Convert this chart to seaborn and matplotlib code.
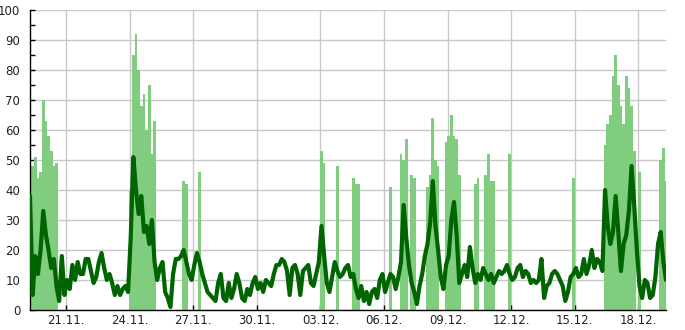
import matplotlib
matplotlib.use("Agg")
import matplotlib.pyplot as plt
import matplotlib.dates as mdates
from matplotlib.ticker import MultipleLocator, FixedLocator
import seaborn as sns
import pandas as pd
import numpy as np

# ---- data (3-hourly samples) ----
start_time = "2023-11-19 07:15"
step = "3h"

dark_values = [
    38, 5, 18, 12, 20, 33, 25, 20,
    14, 17, 8, 3, 18, 5, 10, 7,
    15, 10, 16, 12, 12, 17, 17, 13,
    9, 11, 16, 19, 14, 10, 12, 9,
    5, 8, 5, 7, 8, 6, 24, 51,
    40, 32, 38, 26, 28, 22, 30, 16,
    10, 14, 16, 6, 4, 1, 12, 17,
    17, 18, 20, 16, 12, 10, 15, 19,
    16, 12, 9, 6, 5, 4, 3, 9,
    12, 4, 3, 9, 4, 7, 12, 9,
    4, 3, 7, 5, 9, 11, 7, 9,
    6, 10, 9, 8, 12, 15, 15, 17,
    16, 13, 5, 14, 15, 12, 5, 13,
    14, 15, 9, 8, 12, 16, 28, 18,
    9, 6, 11, 16, 13, 11, 12, 14,
    15, 11, 12, 7, 4, 8, 3, 6,
    2, 6, 7, 4, 10, 12, 6, 9,
    12, 11, 7, 11, 16, 35, 24, 15,
    9, 6, 2, 8, 12, 18, 22, 29,
    43, 28, 20, 11, 7, 15, 18, 30,
    36, 25, 9, 12, 15, 11, 21, 14,
    9, 12, 10, 14, 12, 10, 12, 9,
    11, 13, 12, 13, 15, 12, 10, 11,
    14, 15, 11, 13, 12, 9, 10, 9,
    10, 17, 4, 8, 9, 12, 13, 12,
    10, 8, 3, 6, 11, 12, 14, 11,
    12, 17, 12, 15, 20, 14, 17, 16,
    13, 40, 28, 22, 26, 38, 26, 13,
    22, 25, 33, 48, 35, 20, 8, 4,
    10, 9, 4, 5, 11, 22, 26, 16,
    10,
]

light_values = [
    56, 48, 51, 44, 46, 70, 63, 58,
    53, 48, 49, 0, 0, 0, 0, 0,
    0, 0, 0, 0, 0, 0, 0, 0,
    0, 0, 0, 0, 0, 0, 0, 0,
    0, 0, 0, 0, 0, 0, 40, 85,
    92, 80, 68, 72, 60, 75, 52, 63,
    0, 0, 0, 0, 0, 0, 0, 0,
    0, 0, 43, 42, 0, 0, 0, 0,
    46, 0, 0, 0, 0, 0, 0, 0,
    0, 0, 0, 0, 0, 0, 0, 0,
    0, 0, 0, 0, 0, 0, 0, 0,
    0, 0, 0, 0, 0, 0, 0, 0,
    0, 0, 0, 0, 0, 0, 0, 0,
    0, 0, 0, 0, 0, 0, 53, 49,
    0, 0, 0, 0, 48, 0, 0, 0,
    0, 0, 44, 42, 42, 0, 0, 0,
    0, 0, 0, 0, 0, 0, 0, 0,
    41, 0, 0, 0, 52, 50, 57, 0,
    45, 44, 0, 0, 0, 0, 41, 45,
    64, 50, 48, 0, 0, 56, 58, 65,
    58, 57, 45, 0, 0, 0, 0, 0,
    42, 44, 0, 0, 45, 52, 43, 43,
    0, 0, 0, 0, 0, 52, 0, 0,
    0, 0, 0, 0, 0, 0, 0, 0,
    0, 0, 0, 0, 0, 0, 0, 0,
    0, 0, 0, 0, 0, 44, 0, 0,
    0, 0, 0, 0, 0, 0, 0, 0,
    0, 55, 62, 65, 78, 85, 75, 68,
    62, 78, 74, 68, 53, 0, 46, 0,
    0, 0, 0, 0, 0, 0, 50, 54,
    43,
]

tick_dates = ["2023-11-21", "2023-11-24", "2023-11-27", "2023-11-30",
              "2023-12-03", "2023-12-06", "2023-12-09", "2023-12-12",
              "2023-12-15", "2023-12-18"]
tick_labels = ["21.11.", "24.11.", "27.11.", "30.11.", "03.12.",
               "06.12.", "09.12.", "12.12.", "15.12.", "18.12."]
x_start = "2023-11-19 07:15"
x_end = "2023-12-19 07:15"

# ---- build ----
times = pd.date_range(start_time, periods=len(dark_values), freq=step)
df = pd.DataFrame({"time": times, "dark": dark_values, "light": light_values})

sns.set_theme(style="white")
plt.rcParams["font.family"] = ["DejaVu Sans"]

fig = plt.figure(figsize=(6.85, 3.30), dpi=100)
ax = fig.add_axes([30 / 685, 20 / 330, 636 / 685, 300 / 330])

ax.bar(df["time"], df["light"], width=0.125, color="#80cd80",
       linewidth=0, align="center", zorder=2)
sns.lineplot(data=df, x="time", y="dark", ax=ax, color="#006400",
             linewidth=3.0, zorder=3)

ax.set_xlim(pd.Timestamp(x_start), pd.Timestamp(x_end))
ax.set_ylim(0, 100)

ax.xaxis.set_major_locator(FixedLocator(mdates.date2num(pd.to_datetime(tick_dates))))
ax.set_xticklabels(tick_labels)
ax.yaxis.set_major_locator(MultipleLocator(10))
ax.yaxis.set_minor_locator(MultipleLocator(5))

ax.grid(True, which="major", color="#c8c8c8", linewidth=1.0, zorder=0)
ax.set_axisbelow(True)

for s in ["top", "right"]:
    ax.spines[s].set_visible(False)
for s in ["left", "bottom"]:
    ax.spines[s].set_color("black")
    ax.spines[s].set_linewidth(1.0)

ax.tick_params(axis="y", which="both", direction="in", length=3.5,
               width=1.0, color="black", labelsize=8.5, pad=7,
               left=True, labelcolor="#222222")
ax.tick_params(axis="x", which="major", direction="in", length=3.5,
               width=1.0, color="black", labelsize=8.5, pad=3,
               bottom=True, labelcolor="#222222")
ax.set_xlabel("")
ax.set_ylabel("")

fig.savefig("out.png", dpi=100)
